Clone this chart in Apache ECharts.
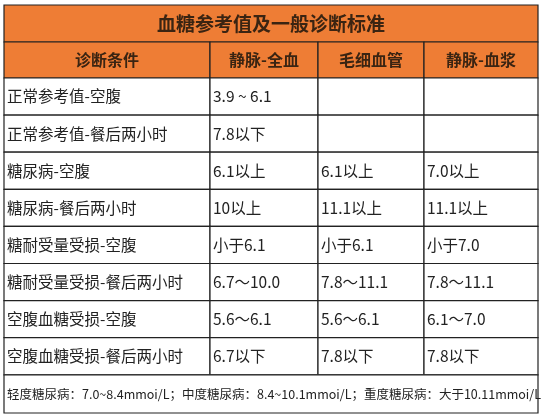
<!DOCTYPE html><html><head><meta charset="utf-8"><script src="https://cdn.jsdelivr.net/npm/echarts@6/dist/echarts.min.js"></script>
<style>html,body{margin:0;background:#fff}#c{width:542px;height:415px}</style></head><body><div id="c"></div><script>
const title = '血糖参考值及一般诊断标准';
const headers = ['诊断条件','静脉-全血','毛细血管','静脉-血浆'];
const conditions = ['正常参考值-空腹','正常参考值-餐后两小时','糖尿病-空腹','糖尿病-餐后两小时','糖耐受量受损-空腹','糖耐受量受损-餐后两小时','空腹血糖受损-空腹','空腹血糖受损-餐后两小时'];
const venousWhole = ['3.9 ~ 6.1','7.8以下','6.1以上','10以上','小于6.1','6.7～10.0','5.6～6.1','6.7以下'];
const capillary = ['','','6.1以上','11.1以上','小于6.1','7.8～11.1','5.6～6.1','7.8以下'];
const venousPlasma = ['','','7.0以上','11.1以上','小于7.0','7.8～11.1','6.1～7.0','7.8以下'];
const footnote = '轻度糖尿病：7.0~8.4mmoi/L；中度糖尿病：8.4~10.1mmoi/L；重度糖尿病：大于10.11mmoi/L';
const colEdges = [0,206,314,420,534];
const rowEdges = [0,37,73,110.1,147.2,184.3,221.4,258.5,295.6,332.7,369.8,408];

const cells = [];
cells.push({x0:0,x1:4,r:0,text:title,kind:'title'});
headers.forEach((h,i)=>cells.push({x0:i,x1:i+1,r:1,text:h,kind:'head'}));
conditions.forEach((c,i)=>{
  [c,venousWhole[i],capillary[i],venousPlasma[i]].forEach((t,j)=>cells.push({x0:j,x1:j+1,r:i+2,text:t,kind:'body'}));
});
cells.push({x0:0,x1:4,r:10,text:footnote,kind:'foot'});
const data = cells.map((c,i)=>[colEdges[c.x0],colEdges[c.x1],rowEdges[c.r],rowEdges[c.r+1],i]);

const chart = echarts.init(document.getElementById('c'));
chart.setOption({
  animation:false,
  grid:{left:4,top:5,width:534,height:408},
  xAxis:{type:'value',min:0,max:534,show:false},
  yAxis:{type:'value',min:0,max:408,inverse:true,show:false},
  series:[{type:'custom',data,renderItem:(p,api)=>{
    const c = cells[api.value(4)];
    const a = api.coord([api.value(0),api.value(2)]), b = api.coord([api.value(1),api.value(3)]);
    const w=b[0]-a[0], h=b[1]-a[1];
    const orange = c.kind==='title'||c.kind==='head';
    const center = orange;
    const font = c.kind==='title'?'bold 19px "Noto Sans CJK SC"':c.kind==='head'?'bold 16px "Noto Sans CJK SC"':c.kind==='foot'?'12.5px "Noto Sans CJK SC"':'15.5px "Noto Sans CJK SC"';
    return {type:'group',children:[
      {type:'rect',shape:{x:a[0],y:a[1],width:w,height:h},style:{fill:orange?'#EE7D35':'#fff',stroke:'#222',lineWidth:1.2}},
      {type:'text',style:{text:c.text,x:center?a[0]+w/2:a[0]+3,y:a[1]+h/2,align:center?'center':'left',verticalAlign:'middle',font,fill:orange?'#3a2412':'#222'}}
    ]};
  }}]
});
</script></body></html>
